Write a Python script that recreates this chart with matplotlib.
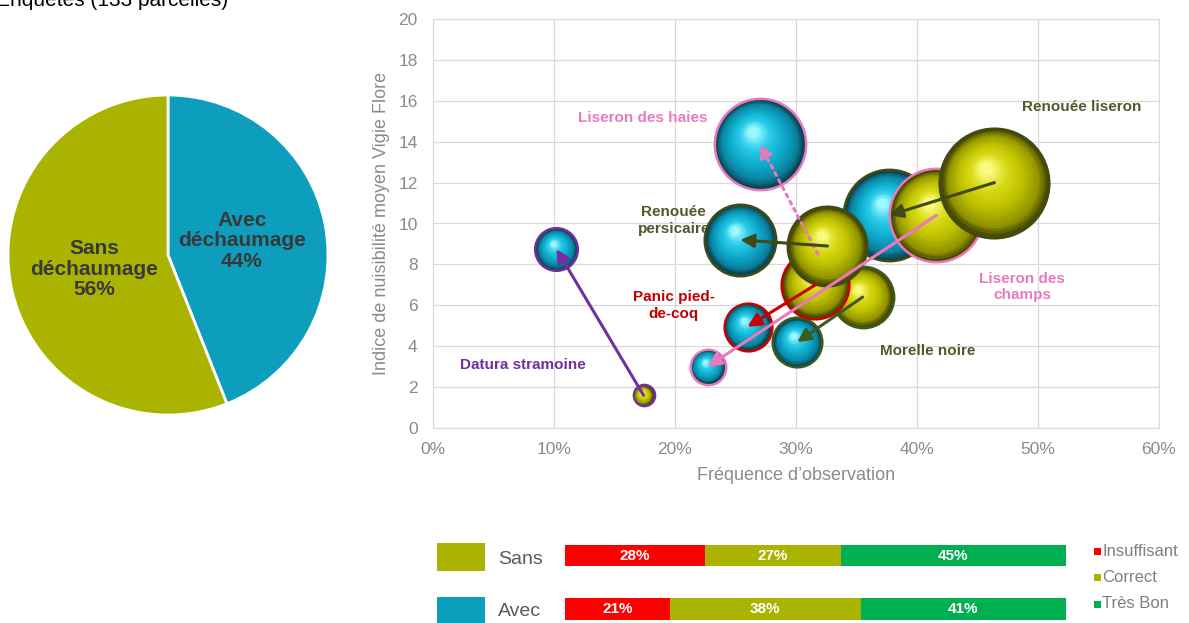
import numpy as np
import matplotlib
matplotlib.use("Agg")
import matplotlib.pyplot as plt
from matplotlib.transforms import offset_copy
from matplotlib.patches import Rectangle
from matplotlib.colors import LinearSegmentedColormap

# ---------------- data ----------------
pie_labels = ["Avec déchaumage", "Sans déchaumage"]
pie_values = [44, 56]

especes = ["Datura stramoine", "Liseron des haies", "Renouée persicaire",
           "Panic pied-de-coq", "Morelle noire", "Renouée liseron",
           "Liseron des champs"]
freq_sans = [17.4, 31.8, 32.6, 31.6, 35.5, 46.4, 41.6]
indice_sans = [1.6, 8.5, 8.9, 7.0, 6.4, 12.0, 10.4]
taille_sans = [1.4, 5.0, 16.8, 12.3, 10.2, 31.4, 23.0]
freq_avec = [10.2, 27.0, 25.4, 26.0, 30.1, 37.7, 22.7]
indice_avec = [8.75, 13.9, 9.2, 4.95, 4.2, 10.4, 3.0]
taille_avec = [5.1, 22.0, 13.7, 6.3, 6.8, 22.0, 3.6]

x_ticks = [0, 10, 20, 30, 40, 50, 60]
y_ticks = [0, 2, 4, 6, 8, 10, 12, 14, 16, 18, 20]

groupes = ["Sans", "Avec"]
niveaux = ["Insuffisant", "Correct", "Très Bon"]
notes_sans = [28, 27, 45]
notes_avec = [21, 38, 41]

# ---------------- styles ----------------
plt.rcParams['font.family'] = ['Liberation Sans', 'DejaVu Sans']
CYAN = '#0E9EBD'
OLIVE = '#A9B300'
GRAY_TXT = '#8A8A8A'
esp_col = ['#7030A0', '#E879BE', '#3F4A14', '#C80000', '#3F5A1E', '#3F4A14', '#EC78BE']
txt_col = ['#7030A0', '#E77BBE', '#4F5A2A', '#C00000', '#4F5A2A', '#4F5A2A', '#E77BBE']
lab_pos = [(7.4, 3.08), (17.3, 15.15), (19.9, 10.14), (19.9, 5.99),
           (40.9, 3.78), (53.6, 15.68), (48.7, 6.89)]
lab_txt = ["Datura stramoine", "Liseron des haies", "Renouée\npersicaire",
           "Panic pied-\nde-coq", "Morelle noire", "Renouée liseron",
           "Liseron des\nchamps"]
ordre = [(4, 'a'), (3, 'a'), (0, 'a'), (0, 's'), (1, 's'), (1, 'a'), (2, 'a'),
         (4, 's'), (3, 's'), (5, 'a'), (2, 's'), (6, 'a'), (6, 's'), (5, 's')]

cmap_cyan = LinearSegmentedColormap.from_list('cy', [
    (0, '#0A4754'), (0.15, '#0A84A2'), (0.45, '#0EAECF'), (0.75, '#2FCDEB'), (1, '#9AF8FF')])
cmap_yel = LinearSegmentedColormap.from_list('ye', [
    (0, '#4A4C00'), (0.15, '#929400'), (0.45, '#C0C200'), (0.75, '#DADC1A'), (1, '#FAFA80')])

fig = plt.figure(figsize=(11.89, 6.23), dpi=100)
W, H = 1189, 623

# cropped title line at top-left (only its lower part is visible)
fig.text(228 / W, 1 - 6 / H, "Enquêtes (133 parcelles)", ha='right', va='baseline',
         fontsize=15, color='black')

# ---------------- pie ----------------
axp = fig.add_axes([8 / W, (H - 415) / H, 320 / W, 320 / H])
wedges, texts, autotexts = axp.pie(
    pie_values, colors=[CYAN, OLIVE], startangle=90, counterclock=False,
    autopct='%.0f%%', pctdistance=0.47,
    wedgeprops=dict(edgecolor='white', linewidth=2),
    textprops=dict(fontsize=15, fontweight='bold', color='#383838'))
for t, name in zip(autotexts, pie_labels):
    t.set_text(name.replace(' ', '\n') + '\n' + t.get_text())
    t.set_linespacing(1.1)
axp.set_xlim(-1, 1)
axp.set_ylim(-1, 1)
axp.set_aspect('equal')

# ---------------- bubble chart ----------------
ax = fig.add_axes([433 / W, (H - 428) / H, 726 / W, 409 / H])
ax.set_xlim(0, 60)
ax.set_ylim(0, 20)
ax.set_xticks(x_ticks)
ax.set_xticklabels([f"{v}%" for v in x_ticks])
ax.set_yticks(y_ticks)
ax.tick_params(length=0, labelsize=12.5, colors=GRAY_TXT)
ax.tick_params(axis='y', pad=11)
ax.tick_params(axis='x', pad=10)
ax.grid(True, color='#D9D9D9', lw=0.9)
ax.set_axisbelow(True)
for sp in ax.spines.values():
    sp.set_color('#D9D9D9')
ax.set_xlabel("Fréquence d’observation", fontsize=13, color=GRAY_TXT, labelpad=7)
ax.set_ylabel("Indice de nuisibilité moyen Vigie Flore", fontsize=13, color=GRAY_TXT)
ax.yaxis.set_label_coords(-0.059, 0.5)


def sphere(x, y, taille, cmap, edge, z):
    R = 10 * np.sqrt(taille)
    ax.scatter([x], [y], s=(2 * R * 0.72) ** 2, color=edge, lw=0, zorder=z)
    Ri = R - 2.5
    n = 22
    for i, t in enumerate(np.linspace(0, 1, n)):
        r = Ri * (1 - 0.88 * t)
        tr = offset_copy(ax.transData, fig=fig, x=-0.16 * Ri * t, y=0.27 * Ri * t, units='dots')
        ax.scatter([x], [y], s=(2 * r * 0.72) ** 2, color=cmap(t), lw=0,
                   transform=tr, zorder=z + 0.001 * (i + 1))


for k, (i, g) in enumerate(ordre):
    if g == 'a':
        sphere(freq_avec[i], indice_avec[i], taille_avec[i], cmap_cyan, esp_col[i], 3 + k * 0.1)
    else:
        sphere(freq_sans[i], indice_sans[i], taille_sans[i], cmap_yel, esp_col[i], 3 + k * 0.1)

for i in range(len(especes)):
    ls = ':' if i == 1 else '-'
    ax.annotate('', xy=(freq_avec[i], indice_avec[i]), xytext=(freq_sans[i], indice_sans[i]),
                arrowprops=dict(arrowstyle='-|>,head_length=0.8,head_width=0.4',
                                color=esp_col[i], lw=2.2, shrinkA=0, shrinkB=0,
                                linestyle=ls),
                zorder=20)
    ax.text(lab_pos[i][0], lab_pos[i][1], lab_txt[i], ha='center', va='center',
            fontsize=11, fontweight='bold', color=txt_col[i], linespacing=1.25, zorder=2.5)

# ---------------- stacked bars ----------------
axb = fig.add_axes([565 / W, (H - 635.75) / H, 501 / W, 107 / H])
axb.set_xlim(0, 100)
axb.set_ylim(1.5, -0.5)
axb.axis('off')
bar_cols = ['#FF0000', OLIVE, '#00B050']
for row, vals in enumerate([notes_sans, notes_avec]):
    left = 0
    for v, c in zip(vals, bar_cols):
        axb.barh(row, v, left=left, height=0.4, color=c, lw=0)
        axb.text(left + v / 2, row, f"{v}%", ha='center', va='center', color='white',
                 fontsize=11, fontweight='bold')
        left += v

# left legend squares
for (y0, y1), col, name, yt in [((543, 571), OLIVE, groupes[0], 560),
                                ((597, 625), CYAN, groupes[1], 612)]:
    fig.add_artist(Rectangle((437 / W, (H - y1) / H), 48 / W, (y1 - y0) / H,
                             transform=fig.transFigure, color=col, lw=0))
    fig.text(498 / W, 1 - yt / H, name, ha='left', va='center', fontsize=14, color='#595959')

# right legend
for name, col, yc in zip(niveaux, bar_cols, [551, 577, 604]):
    fig.add_artist(Rectangle((1094 / W, (H - yc - 3.5) / H), 7 / W, 7 / H,
                             transform=fig.transFigure, color=col, lw=0))
    fig.text(1102 / W, 1 - yc / H, name, ha='left', va='center', fontsize=12, color='#7F7F7F')

fig.savefig("out.png", dpi=100)
